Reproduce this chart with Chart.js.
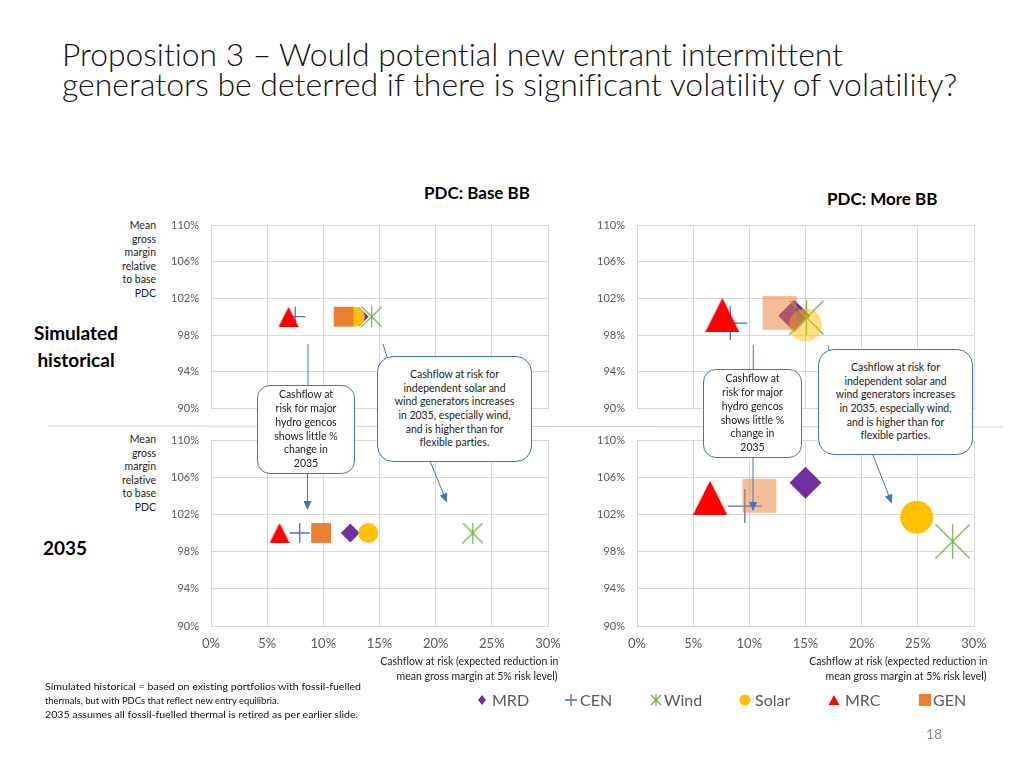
<!DOCTYPE html>
<html>
<head>
<meta charset="utf-8">
<script src="https://cdn.jsdelivr.net/npm/chart.js@4.4.0/dist/chart.umd.min.js"></script>
<style>
  body { margin:0; width:1024px; height:768px; position:relative; background:#fff; overflow:hidden;
         font-family: Lato, "Open Sans", sans-serif; color:#000; font-variant-ligatures:none; }
  .abs { position:absolute; white-space:nowrap; }
  .fit { display:inline-block; white-space:nowrap; }
  canvas.chart { position:absolute; }
  .title { left:62px; top:39px; font-size:31px; line-height:30px; font-weight:300; color:#111; }
  .title .fit { transform-origin:left center; }
  .head { font-weight:bold; font-size:17px; line-height:20px; }
  .rowlab { font-weight:bold; font-size:19px; line-height:27px; text-align:center; }
  .ylab { font-size:10.5px; line-height:13.5px; text-align:right; color:#222; }
  .xlab { font-size:10.5px; line-height:14.5px; text-align:right; color:#222; }
  .xlab .fit { transform-origin:right center; }
  .note { left:45px; top:679px; font-size:10px; line-height:14px; color:#111; }
  .note .fit { transform-origin:left center; }
  .callout { position:absolute; box-sizing:border-box; border:1.5px solid #4472C4; background:#fff;
             display:flex; align-items:center; justify-content:center; text-align:center;
             font-size:10.5px; line-height:13.7px; color:#222; }
  .leg { position:absolute; top:690px; height:20px; line-height:20px; font-size:16px; color:#595959; }
  .leg svg { position:absolute; top:4px; }
</style>
</head>
<body>

<div class="abs title"><span class="fit" data-w="781">Proposition 3 – Would potential new entrant intermittent</span><br><span class="fit" data-w="895">generators be deterred if there is significant volatility of volatility?</span></div>

<div class="abs head" style="left:424px;top:183px;">PDC: Base BB</div>
<div class="abs head" style="left:827px;top:189px;">PDC: More BB</div>

<div class="abs rowlab" style="left:26px;top:319px;width:100px;">Simulated<br>historical</div>
<div class="abs rowlab" style="left:26px;top:534px;width:78px;">2035</div>

<div class="abs ylab" style="right:868px;top:219px;">Mean<br>gross<br>margin<br>relative<br>to base<br>PDC</div>
<div class="abs ylab" style="right:868px;top:433px;">Mean<br>gross<br>margin<br>relative<br>to base<br>PDC</div>

<canvas id="cTL" class="chart" width="424" height="200" style="left:140px;top:215px;"></canvas>
<canvas id="cBL" class="chart" width="424" height="230" style="left:140px;top:430px;"></canvas>
<canvas id="cTR" class="chart" width="424" height="200" style="left:566px;top:215px;"></canvas>
<canvas id="cBR" class="chart" width="424" height="230" style="left:566px;top:430px;"></canvas>

<div class="abs xlab" style="right:466px;top:654px;"><span class="fit" data-w="178">Cashflow at risk (expected reduction in</span><br><span class="fit" data-w="161">mean gross margin at 5% risk level)</span></div>
<div class="abs xlab" style="right:37px;top:654px;"><span class="fit" data-w="178">Cashflow at risk (expected reduction in</span><br><span class="fit" data-w="161">mean gross margin at 5% risk level)</span></div>

<svg class="abs" width="1024" height="768" style="left:0;top:0;">
  <defs>
    <marker id="ah" markerWidth="9" markerHeight="8" refX="8" refY="4" orient="auto" markerUnits="userSpaceOnUse">
      <path d="M0,0 L9,4 L0,8 z" fill="#4472C4"/>
    </marker>
  </defs>
  <line x1="48" y1="426" x2="1003" y2="427" stroke="#d0d0d0" stroke-width="1"/>
  <g stroke="#4472C4" stroke-width="1" fill="none">
    <line x1="308" y1="344" x2="308" y2="386"/>
    <line x1="307.5" y1="473" x2="307.5" y2="509" marker-end="url(#ah)"/>
    <line x1="383" y1="344" x2="387" y2="357"/>
    <line x1="430" y1="461" x2="446.5" y2="501.5" marker-end="url(#ah)"/>
    <line x1="753.3" y1="345" x2="753.3" y2="370"/>
    <line x1="753" y1="457" x2="753" y2="510" marker-end="url(#ah)"/>
    <line x1="828" y1="345" x2="829" y2="350"/>
    <line x1="872.5" y1="454" x2="891.5" y2="502.5" marker-end="url(#ah)"/>
  </g>
</svg>

<div class="callout" style="left:257px;top:385px;width:98px;height:89px;border-radius:13px;"><span>Cashflow at<br>risk for major<br>hydro gencos<br>shows little %<br>change in<br>2035</span></div>
<div class="callout" style="left:377px;top:356px;width:155px;height:106px;border-radius:16px;"><span>Cashflow at risk for<br>independent solar and<br>wind generators increases<br>in 2035, especially wind,<br>and is higher than for<br>flexible parties.</span></div>
<div class="callout" style="left:703px;top:369px;width:99px;height:89px;border-radius:13px;"><span>Cashflow at<br>risk for major<br>hydro gencos<br>shows little %<br>change in<br>2035</span></div>
<div class="callout" style="left:818px;top:349px;width:155px;height:106px;border-radius:16px;"><span>Cashflow at risk for<br>independent solar and<br>wind generators increases<br>in 2035, especially wind,<br>and is higher than for<br>flexible parties.</span></div>

<div class="abs note"><span class="fit" data-w="316">Simulated historical = based on existing portfolios with fossil-fuelled</span><br><span class="fit" data-w="234">thermals, but with PDCs that reflect new entry equilibria.</span><br><span class="fit" data-w="313">2035 assumes all fossil-fuelled thermal is retired as per earlier slide.</span></div>

<div class="leg" style="left:476px;"><svg width="12" height="12"><path d="M6,1 L10,6 L6,11 L2,6 z" fill="#7030A0"/></svg><span style="margin-left:16px;">MRD</span></div>
<div class="leg" style="left:565px;"><svg width="12" height="12"><path d="M6,0 V12 M0,6 H12" stroke="#4472C4" stroke-width="1.3"/></svg><span style="margin-left:15px;">CEN</span></div>
<div class="leg" style="left:650px;"><svg width="12" height="12"><path d="M1,1 L11,11 M11,1 L1,11 M6,0 V12" stroke="#70AD47" stroke-width="1.2"/></svg><span style="margin-left:14px;">Wind</span></div>
<div class="leg" style="left:739px;"><svg width="12" height="12"><circle cx="6" cy="6" r="5.5" fill="#FFC000"/></svg><span style="margin-left:16px;">Solar</span></div>
<div class="leg" style="left:828px;"><svg width="12" height="12"><path d="M6,1 L11.5,11 L0.5,11 z" fill="#FF0000"/></svg><span style="margin-left:17px;">MRC</span></div>
<div class="leg" style="left:919px;"><svg width="12" height="12"><rect x="0" y="0" width="12" height="12" fill="#ED7D31"/></svg><span style="margin-left:14px;">GEN</span></div>

<div class="abs" style="left:926px;top:725px;font-size:14px;line-height:18px;color:#8a8a8a;">18</div>

<script>
// series order as in the legend
const seriesNames = ['MRD', 'CEN', 'Wind', 'Solar', 'MRC', 'GEN'];
const seriesColors = ['#7030A0', '#4472C4', '#70AD47', '#FFC000', '#FF0000', '#ED7D31'];

// x = cashflow at risk (%), y = mean gross margin relative to base PDC (%)
const histBaseX = [13.2, 7.5, 14.3, 12.8, 6.9, 11.8];
const histBaseY = [100.0, 100.0, 100.0, 100.0, 100.0, 100.0];
const y2035BaseX = [12.4, 7.9, 23.3, 14.0, 6.1, 9.8];
const y2035BaseY = [100.0, 100.0, 100.0, 100.0, 100.0, 100.0];
const histMoreX = [14.0, 8.3, 15.1, 15.0, 7.6, 12.7];
const histMoreY = [100.1, 99.3, 99.9, 99.1, 100.2, 100.4];
const y2035MoreX = [15.0, 9.6, 28.1, 24.9, 6.5, 10.9];
const y2035MoreY = [105.4, 102.9, 99.1, 101.7, 103.8, 104.0];

const xTicks = [0, 5, 10, 15, 20, 25, 30];
const yTicks = [90, 94, 98, 102, 106, 110];

Chart.defaults.font.family = 'Lato, "Open Sans", sans-serif';

// Excel style star marker: an X with a vertical stroke
function starMarker(size, color) {
  const c = document.createElement('canvas');
  c.width = size; c.height = size;
  const g = c.getContext('2d');
  g.strokeStyle = color;
  g.lineWidth = 1.2;
  g.beginPath();
  g.moveTo(0.5, 0.5); g.lineTo(size - 0.5, size - 0.5);
  g.moveTo(size - 0.5, 0.5); g.lineTo(0.5, size - 0.5);
  g.moveTo(size / 2, 0); g.lineTo(size / 2, size);
  g.stroke();
  return c;
}

// Excel style triangle: fills its square box, centred on the point
function triangleMarker(size, color) {
  const c = document.createElement('canvas');
  c.width = size; c.height = size;
  const g = c.getContext('2d');
  g.fillStyle = color;
  g.beginPath();
  g.moveTo(size / 2, 0); g.lineTo(size, size); g.lineTo(0, size);
  g.closePath();
  g.fill();
  return c;
}

function withAlpha(hex, a) {
  const n = parseInt(hex.slice(1), 16);
  return `rgba(${n >> 16},${(n >> 8) & 255},${n & 255},${a})`;
}

function makeChart(id, xs, ys, big, showX, alphas) {
  const radii = big ? [16, 17, 17, 16.5, 17, 24] : [9.5, 10, 10, 10, 10, 14];
  const styles = ['rectRot', 'cross', starMarker(big ? 35 : 21, seriesColors[2]), 'circle',
                  triangleMarker(big ? 34 : 20, seriesColors[4]), 'rect'];
  const datasets = seriesNames.map((name, i) => {
    const col = alphas[i] < 1 ? withAlpha(seriesColors[i], alphas[i]) : seriesColors[i];
    return {
      label: name,
      data: [{ x: xs[i], y: ys[i] }],
      pointStyle: styles[i],
      pointRadius: radii[i],
      backgroundColor: col,
      borderColor: col,
      borderWidth: name === 'CEN' ? 1.3 : 0,
      order: seriesNames.length - i,
      clip: false
    };
  });

  new Chart(document.getElementById(id), {
    type: 'scatter',
    data: { datasets },
    options: {
      responsive: false,
      animation: false,
      devicePixelRatio: 1,
      events: [],
      layout: { autoPadding: false, padding: { top: 10, right: 16, left: 0, bottom: 0 } },
      plugins: { legend: { display: false }, tooltip: { enabled: false } },
      scales: {
        x: {
          type: 'linear', min: 0, max: 30,
          afterBuildTicks: s => { s.ticks = xTicks.map(v => ({ value: v })); },
          afterFit: s => { s.height = showX ? 34 : 4; },
          // invisible tick marks give the label gap without adding side padding
          grid: { color: '#d9d9d9', drawTicks: true, tickLength: 10, tickColor: 'rgba(0,0,0,0)' },
          border: { color: '#d9d9d9' },
          ticks: { display: showX, color: '#595959', font: { size: 13 }, padding: 0,
                   maxRotation: 0, autoSkip: false, callback: v => v + '%' }
        },
        y: {
          type: 'linear', min: 90, max: 110,
          afterBuildTicks: s => { s.ticks = yTicks.map(v => ({ value: v })); },
          afterFit: s => { s.width = 71; },
          grid: { color: '#d9d9d9', drawTicks: true, tickLength: 12, tickColor: 'rgba(0,0,0,0)' },
          border: { color: '#d9d9d9' },
          ticks: { color: '#595959', font: { size: 11 }, padding: 0, callback: v => v + '%' }
        }
      }
    }
  });
}

makeChart('cTL', histBaseX, histBaseY, false, false, [1, 1, 1, 1, 1, 1]);
makeChart('cBL', y2035BaseX, y2035BaseY, false, true, [1, 1, 1, 1, 1, 1]);
makeChart('cTR', histMoreX, histMoreY, true, false, [1, 1, 1, 0.5, 1, 0.5]);
makeChart('cBR', y2035MoreX, y2035MoreY, true, true, [1, 1, 1, 1, 1, 0.5]);

// squeeze long text lines to the widths they have on the slide
document.querySelectorAll('.fit[data-w]').forEach(el => {
  const w = el.getBoundingClientRect().width;
  if (w > 0) el.style.transform = `scaleX(${(+el.dataset.w / w).toFixed(3)})`;
});
</script>
</body>
</html>
